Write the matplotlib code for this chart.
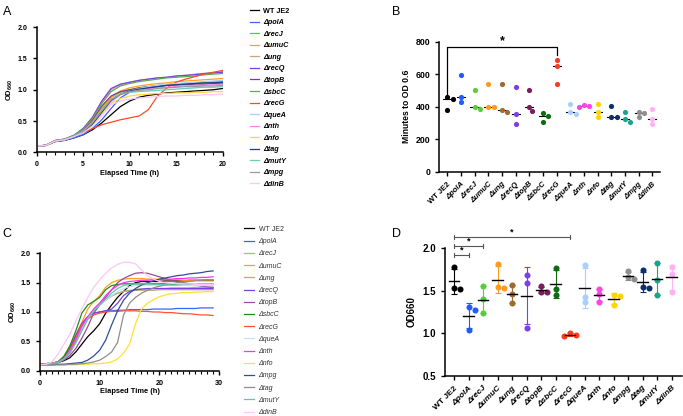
import numpy as np
import matplotlib.pyplot as plt
from matplotlib.ticker import MultipleLocator

plt.rcParams.update({'font.family': 'Liberation Sans', 'font.size': 5.5,
                     'font.weight': 'bold', 'axes.linewidth': 1.1,
                     'mathtext.fontset': 'custom', 'mathtext.bf': 'Liberation Sans:bold',
                     'mathtext.rm': 'Liberation Sans'})

# ---------- panel A: growth curves (OD660, 0-20 h) ----------
strains_a = ['WT JE2', 'polA', 'recJ', 'umuC', 'ung', 'recQ', 'topB', 'sbcC', 'recG',
             'queA', 'nth', 'nfo', 'tag', 'mutY', 'mpg', 'dinB']
colors_a = ['#000000', '#3366FF', '#55CC33', '#FFA01E', '#C9A77A', '#7B3FE4', '#8B3A8B', '#5FA85F',
            '#FF4A2A', '#A8CFFF', '#FF80F0', '#FFD93A', '#1F3F7F', '#66CDB8', '#9A9A9A', '#FFC4F8']
hours_a = list(range(0, 21))
od_a = {
    'WT JE2': [.10, .11, .17, .19, .23, .28, .36, .47, .60, .73, .82, .88, .91, .93, .95, .96, .97, .98, .99, 1.00, 1.02],
    'polA':   [.10, .11, .18, .19, .23, .28, .38, .52, .70, .87, .96, 1.00, 1.03, 1.05, 1.07, 1.08, 1.09, 1.10, 1.11, 1.12, 1.13],
    'recJ':   [.10, .11, .18, .20, .26, .36, .52, .72, .88, .96, 1.00, 1.03, 1.05, 1.07, 1.08, 1.09, 1.10, 1.11, 1.12, 1.13, 1.14],
    'umuC':   [.10, .11, .18, .20, .26, .35, .50, .70, .88, .98, 1.03, 1.06, 1.08, 1.10, 1.11, 1.13, 1.14, 1.15, 1.16, 1.17, 1.18],
    'ung':    [.10, .11, .19, .21, .27, .38, .55, .80, 1.00, 1.08, 1.12, 1.15, 1.17, 1.19, 1.20, 1.22, 1.23, 1.25, 1.26, 1.27, 1.29],
    'recQ':   [.10, .11, .19, .21, .27, .38, .56, .82, 1.02, 1.09, 1.12, 1.15, 1.17, 1.19, 1.20, 1.22, 1.23, 1.24, 1.26, 1.27, 1.28],
    'topB':   [.10, .11, .18, .20, .26, .36, .52, .74, .90, .97, 1.00, 1.03, 1.05, 1.06, 1.07, 1.08, 1.08, 1.09, 1.09, 1.10, 1.10],
    'sbcC':   [.10, .11, .18, .21, .27, .37, .54, .78, .97, 1.06, 1.10, 1.13, 1.15, 1.17, 1.19, 1.20, 1.21, 1.22, 1.24, 1.25, 1.26],
    'recG':   [.10, .11, .18, .20, .25, .31, .38, .44, .48, .52, .55, .58, .68, .90, 1.03, 1.12, 1.17, 1.21, 1.25, 1.28, 1.31],
    'queA':   [.10, .11, .18, .20, .25, .32, .44, .62, .80, .92, .98, 1.02, 1.05, 1.07, 1.09, 1.10, 1.11, 1.12, 1.13, 1.14, 1.15],
    'nth':    [.10, .11, .18, .20, .25, .33, .46, .64, .82, .92, .97, 1.00, 1.02, 1.03, 1.04, 1.05, 1.06, 1.07, 1.07, 1.08, 1.09],
    'nfo':    [.10, .11, .18, .20, .25, .32, .44, .62, .78, .86, .90, .92, .93, .94, .94, .95, .95, .96, .96, .97, .97],
    'tag':    [.10, .11, .18, .20, .25, .32, .45, .64, .83, .93, .98, 1.01, 1.03, 1.05, 1.07, 1.08, 1.09, 1.10, 1.11, 1.11, 1.12],
    'mutY':   [.10, .11, .18, .20, .26, .34, .48, .68, .85, .93, .96, .97, .98, .99, 1.00, 1.01, 1.02, 1.03, 1.04, 1.04, 1.05],
    'mpg':    [.10, .11, .18, .20, .25, .33, .47, .66, .84, .93, .97, .99, 1.00, 1.02, 1.03, 1.04, 1.05, 1.05, 1.06, 1.06, 1.07],
    'dinB':   [.10, .11, .18, .20, .25, .31, .42, .58, .76, .82, .85, .87, .88, .89, .90, .90, .91, .91, .92, .92, .93],
}

# ---------- panel B: minutes to OD 0.6 ----------
strains_b = strains_a
colors_b = ['#000000', '#1F5BFF', '#5ACB3C', '#FF9A1A', '#9E6B2E', '#7B3FE4', '#7A1C5E', '#0F6B0F',
            '#FF3B1F', '#A8CFFF', '#FF44E6', '#FFD500', '#0D2F6E', '#19A58C', '#8E8E8E', '#FFB3F5']
minutes_b = [[460, 450, 382], [598, 462, 430], [505, 400, 383], [537, 400, 400],
             [537, 380, 370], [522, 355, 292], [505, 400, 375], [360, 340, 307],
             [690, 648, 537], [418, 370, 355], [412, 405, 400], [418, 370, 337],
             [402, 338, 338], [370, 322, 307], [370, 360, 337], [387, 322, 292]]

# ---------- panel C: growth curves (OD660, 0-29 h) ----------
strains_c = ['WT JE2', 'polA', 'recJ', 'umuC', 'ung', 'recQ', 'topB', 'sbcC', 'recG',
             'queA', 'nth', 'nfo', 'mpg', 'tag', 'mutY', 'dinB']
colors_c = ['#000000', '#3366FF', '#7ED957', '#FFA01E', '#C4A57A', '#7B3FE4', '#9B4B9B', '#1E8C1E',
            '#FF5533', '#C8E0FF', '#FF33EE', '#FFE033', '#2E4F95', '#8E8E8E', '#5CC8B0', '#FFC4F8']
hours_c = list(range(0, 30))
od_c = {
    'WT JE2': [.12, .12, .13, .14, .17, .22, .32, .45, .58, .68, .80, .98, 1.12, 1.25, 1.35, 1.45, 1.50, 1.52, 1.52, 1.52, 1.52, 1.53, 1.53, 1.53, 1.53, 1.54, 1.54, 1.54, 1.54, 1.54],
    'polA':   [.12, .12, .13, .15, .22, .38, .60, .80, .92, .98, 1.00, 1.02, 1.02, 1.03, 1.03, 1.04, 1.04, 1.04, 1.04, 1.05, 1.05, 1.05, 1.05, 1.06, 1.06, 1.06, 1.06, 1.07, 1.07, 1.07],
    'recJ':   [.10, .11, .12, .14, .20, .32, .50, .72, .90, 1.05, 1.15, 1.22, 1.28, 1.32, 1.35, 1.37, 1.38, 1.39, 1.39, 1.40, 1.40, 1.40, 1.41, 1.41, 1.41, 1.41, 1.42, 1.42, 1.42, 1.42],
    'umuC':   [.10, .11, .12, .15, .25, .42, .62, .82, 1.05, 1.18, 1.28, 1.42, 1.50, 1.54, 1.56, 1.57, 1.57, 1.57, 1.56, 1.56, 1.56, 1.55, 1.55, 1.55, 1.54, 1.54, 1.54, 1.53, 1.53, 1.53],
    'ung':    [.10, .11, .12, .14, .19, .30, .48, .68, .88, 1.02, 1.12, 1.20, 1.27, 1.32, 1.35, 1.36, 1.37, 1.37, 1.37, 1.37, 1.38, 1.38, 1.38, 1.38, 1.38, 1.38, 1.38, 1.38, 1.38, 1.38],
    'recQ':   [.10, .11, .12, .15, .22, .38, .60, .80, .92, .98, 1.00, 1.02, 1.05, 1.15, 1.28, 1.35, 1.38, 1.39, 1.40, 1.40, 1.40, 1.40, 1.40, 1.40, 1.40, 1.40, 1.40, 1.40, 1.40, 1.40],
    'topB':   [.10, .11, .12, .14, .18, .26, .38, .55, .75, .98, 1.12, 1.25, 1.38, 1.50, 1.57, 1.62, 1.66, 1.67, 1.66, 1.63, 1.60, 1.57, 1.54, 1.52, 1.50, 1.48, 1.46, 1.44, 1.43, 1.42],
    'sbcC':   [.10, .11, .12, .15, .24, .42, .68, .98, 1.12, 1.18, 1.25, 1.38, 1.45, 1.47, 1.48, 1.48, 1.48, 1.48, 1.48, 1.48, 1.48, 1.48, 1.47, 1.47, 1.47, 1.47, 1.47, 1.47, 1.47, 1.47],
    'recG':   [.12, .12, .13, .15, .20, .35, .55, .78, .88, .95, .98, 1.00, 1.01, 1.01, 1.02, 1.02, 1.02, 1.01, 1.01, 1.00, 1.00, .99, .99, .98, .97, .97, .96, .95, .95, .94],
    'queA':   [.10, .11, .12, .14, .20, .32, .50, .72, .90, 1.03, 1.12, 1.20, 1.28, 1.35, 1.40, 1.43, 1.45, 1.45, 1.45, 1.45, 1.45, 1.45, 1.45, 1.45, 1.45, 1.45, 1.45, 1.45, 1.45, 1.45],
    'nth':    [.10, .11, .12, .14, .20, .32, .52, .75, .92, 1.05, 1.15, 1.28, 1.38, 1.45, 1.50, 1.52, 1.53, 1.54, 1.54, 1.55, 1.55, 1.56, 1.56, 1.57, 1.57, 1.58, 1.58, 1.59, 1.59, 1.60],
    'nfo':    [.10, .10, .10, .10, .10, .10, .10, .11, .11, .12, .12, .13, .15, .20, .30, .45, .80, 1.05, 1.15, 1.21, 1.26, 1.29, 1.31, 1.32, 1.33, 1.33, 1.34, 1.34, 1.35, 1.35],
    'mpg':    [.10, .10, .10, .11, .11, .12, .13, .14, .18, .25, .35, .52, .78, 1.02, 1.20, 1.32, 1.40, 1.46, 1.50, 1.53, 1.56, 1.58, 1.60, 1.62, 1.63, 1.65, 1.66, 1.67, 1.69, 1.70],
    'tag':    [.10, .10, .10, .10, .10, .11, .11, .12, .13, .15, .18, .24, .32, .48, .95, 1.15, 1.25, 1.32, 1.37, 1.41, 1.44, 1.46, 1.48, 1.50, 1.51, 1.52, 1.53, 1.54, 1.55, 1.55],
    'mutY':   [.10, .11, .12, .14, .20, .30, .48, .68, .88, 1.02, 1.12, 1.22, 1.32, 1.40, 1.45, 1.47, 1.48, 1.48, 1.48, 1.47, 1.47, 1.46, 1.46, 1.46, 1.47, 1.47, 1.47, 1.48, 1.48, 1.48],
    'dinB':   [.10, .11, .15, .28, .45, .62, .85, 1.05, 1.25, 1.42, 1.55, 1.66, 1.75, 1.81, 1.85, 1.85, 1.82, 1.72, 1.62, 1.56, 1.52, 1.50, 1.49, 1.48, 1.48, 1.48, 1.47, 1.47, 1.47, 1.47],
}

# ---------- panel D: final OD660 ----------
strains_d = strains_c
colors_d = ['#000000', '#1F5BFF', '#5ACB3C', '#FF9A1A', '#9E6B2E', '#7B3FE4', '#7A1C5E', '#0F6B0F',
            '#FF3B1F', '#A8CFFF', '#FF44E6', '#FFD500', '#8E8E8E', '#0D2F6E', '#19A58C', '#FFB3F5']
od_d = [[1.78, 1.53, 1.52], [1.31, 1.27, 1.04], [1.55, 1.40, 1.24], [1.81, 1.54, 1.53],
        [1.57, 1.46, 1.36], [1.68, 1.59, 1.06], [1.55, 1.49, 1.48], [1.77, 1.52, 1.45],
        [1.00, 0.98, 0.97], [1.80, 1.43, 1.37], [1.52, 1.46, 1.37], [1.45, 1.44, 1.33],
        [1.73, 1.66, 1.64], [1.74, 1.54, 1.53], [1.83, 1.63, 1.45], [1.78, 1.70, 1.49]]


def label(s):
    return s if s.startswith('WT') else '\u0394' + s


def style_axes(ax, size):
    ax.spines['top'].set_visible(False)
    ax.spines['right'].set_visible(False)
    ax.tick_params(direction='out', length=3, width=1.0, labelsize=size)
    ax.tick_params(which='minor', length=2, width=0.8)


def italic_deltas(texts):
    for t in texts:
        if not t.get_text().startswith('WT'):
            t.set_style('italic')


def swarm(ax, x0, vals, diam):
    placed, xs = [], []
    inv = ax.transData.inverted()
    for v in vals:
        px, py = ax.transData.transform((x0, v))
        for k in [0, 1, -1, 2, -2, 3, -3]:
            cx = px + k * diam * 0.55
            if all((cx - qx) ** 2 + (py - qy) ** 2 >= (0.9 * diam) ** 2 for qx, qy in placed):
                break
        placed.append((cx, py))
        xs.append(inv.transform((cx, py))[0])
    return xs


fig = plt.figure(figsize=(6.83, 4.16), dpi=100)

# ---- A ----
axA = fig.add_axes([0.0537, 0.634, 0.2723, 0.3005])
for s, c in zip(strains_a, colors_a):
    axA.plot(hours_a, od_a[s], color=c, lw=0.9, label=label(s))
axA.set_xlim(0, 20)
axA.set_ylim(0, 2)
axA.xaxis.set_major_locator(MultipleLocator(5))
axA.xaxis.set_minor_locator(MultipleLocator(1))
axA.yaxis.set_major_locator(MultipleLocator(0.5))
axA.yaxis.set_major_formatter(plt.FormatStrFormatter('%.1f'))
style_axes(axA, 5)
axA.set_xlabel('Elapsed Time (h)', fontsize=5.3, fontweight='bold', labelpad=1)
axA.set_ylabel(r'OD$_{\bf 660}$', fontsize=5.5, fontweight='bold', labelpad=2)
legA = axA.legend(loc='upper left', bbox_to_anchor=(0.356, 0.997), bbox_transform=fig.transFigure,
                  frameon=False, handlelength=1.25, handletextpad=0.6, labelspacing=0.62,
                  prop={'weight': 'bold', 'size': 5.2})
italic_deltas(legA.get_texts())
fig.text(0.004, 0.985, 'A', fontsize=9, fontweight='normal', va='top')

# ---- B ----
axB = fig.add_axes([0.6428, 0.5873, 0.3236, 0.3125])
axB.set_xlim(-0.6, 15.56)
axB.set_ylim(0, 800)
style_axes(axB, 6.3)
for i, (vals, c) in enumerate(zip(minutes_b, colors_b)):
    med = np.median(vals)
    axB.plot([i - 0.3, i + 0.3], [med, med], color='black', lw=0.8, zorder=2)
    xs = swarm(axB, i, vals, 4.8)
    axB.scatter(xs, vals, s=14, color=c, zorder=3, linewidths=0)
axB.set_xticks(range(len(strains_b)))
axB.set_xticklabels([label(s) for s in strains_b], rotation=45, ha='right',
                    rotation_mode='anchor', fontsize=5.5)
italic_deltas(axB.get_xticklabels())
axB.yaxis.set_major_locator(MultipleLocator(200))
axB.set_ylabel('Minutes to OD 0.6', fontsize=6.2, fontweight='bold', labelpad=3)
axB.plot([0, 0, 8, 8], [472, 765, 765, 718], color='black', lw=0.9, clip_on=False)
axB.text(4, 768, '*', ha='center', va='bottom', fontsize=9, fontweight='bold')
fig.text(0.574, 0.985, 'B', fontsize=9, fontweight='normal', va='top')

# ---- C ----
axC = fig.add_axes([0.0586, 0.1089, 0.2621, 0.2822])
for s, c in zip(strains_c, colors_c):
    axC.plot(hours_c, od_c[s], color=c, lw=0.9, label=label(s))
axC.set_xlim(0, 30)
axC.set_ylim(0, 2)
axC.xaxis.set_major_locator(MultipleLocator(10))
axC.xaxis.set_minor_locator(MultipleLocator(1))
axC.yaxis.set_major_locator(MultipleLocator(0.5))
axC.yaxis.set_major_formatter(plt.FormatStrFormatter('%.1f'))
style_axes(axC, 5.2)
axC.set_xlabel('Elapsed Time (h)', fontsize=5.4, fontweight='bold', labelpad=1)
axC.set_ylabel(r'OD$_{\bf 660}$', fontsize=5.5, fontweight='bold', labelpad=2)
legC = axC.legend(loc='upper left', bbox_to_anchor=(0.348, 0.472), bbox_transform=fig.transFigure,
                  frameon=False, handlelength=1.5, handletextpad=0.6, labelspacing=0.75,
                  prop={'weight': 'normal', 'size': 5})
for t in legC.get_texts():
    t.set_color('#333333')
italic_deltas(legC.get_texts())
fig.text(0.004, 0.452, 'C', fontsize=9, fontweight='normal', va='top')

# ---- D ----
axD = fig.add_axes([0.652, 0.0969, 0.3461, 0.3063])
axD.set_xlim(-0.6, 15.7)
axD.set_ylim(0.5, 2.0)
style_axes(axD, 7)
for i, (vals, c) in enumerate(zip(od_d, colors_d)):
    m = np.mean(vals)
    sd = np.std(vals, ddof=1)
    axD.errorbar(i, m, yerr=sd, color=c, lw=0.8, capsize=2.5, capthick=0.8, zorder=2)
    axD.plot([i - 0.37, i + 0.37], [m, m], color='black', lw=1.0, zorder=4)
    xs = swarm(axD, i, vals, 5.5)
    axD.scatter(xs, vals, s=19, color=c, zorder=3, linewidths=0)
axD.set_xticks(range(len(strains_d)))
axD.set_xticklabels([label(s) for s in strains_d], rotation=45, ha='right',
                    rotation_mode='anchor', fontsize=6)
italic_deltas(axD.get_xticklabels())
axD.yaxis.set_major_locator(MultipleLocator(0.5))
axD.yaxis.set_major_formatter(plt.FormatStrFormatter('%.1f'))
axD.set_ylabel('OD660', fontsize=7, fontweight='bold', labelpad=4)
for (j, yb) in [(1, 1.92), (2, 2.03), (8, 2.13)]:
    axD.plot([0, j], [yb, yb], color='#555555', lw=0.8, clip_on=False)
    axD.plot([0, 0], [yb - 0.025, yb + 0.025], color='#555555', lw=0.8, clip_on=False)
    axD.plot([j, j], [yb - 0.025, yb + 0.025], color='#555555', lw=0.8, clip_on=False)
    axD.text(j / 2, yb + 0.005, '*', ha='center', va='bottom', fontsize=6.5, fontweight='bold')
fig.text(0.574, 0.452, 'D', fontsize=9, fontweight='normal', va='top')

fig.savefig('out.png', dpi=100)
